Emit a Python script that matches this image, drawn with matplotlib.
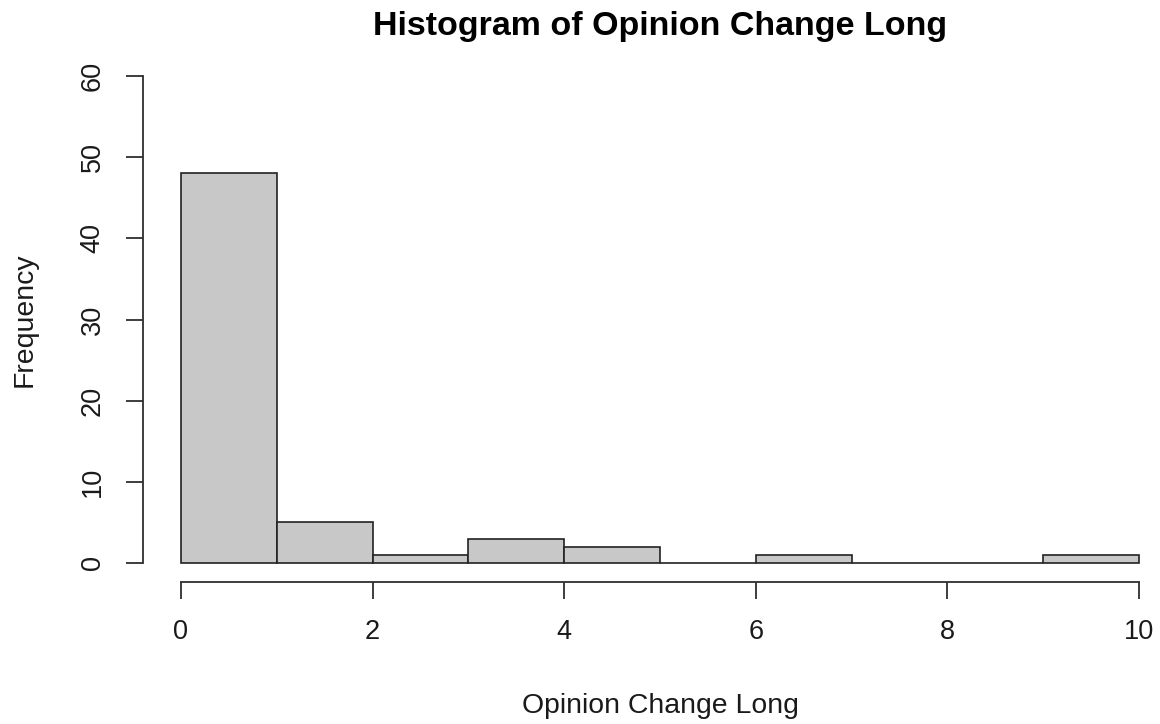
import numpy as np
import matplotlib
matplotlib.use("Agg")
import matplotlib.pyplot as plt

# histogram bins and counts
bin_edges = [0, 1, 2, 3, 4, 5, 6, 7, 8, 9, 10]
counts = [48, 5, 1, 3, 2, 0, 1, 0, 0, 1]
x_ticks = [0, 2, 4, 6, 8, 10]
y_ticks = [0, 10, 20, 30, 40, 50, 60]

plt.rcParams['font.family'] = ['Liberation Sans', 'DejaVu Sans']

W, H = 1160, 724
fig = plt.figure(figsize=(W / 100, H / 100), dpi=100)

left, right, top, bottom = 181, 1139, 76, 563
ax = fig.add_axes([left / W, 1 - bottom / H, (right - left) / W, (bottom - top) / H])

ax.hist(bin_edges[:-1], bins=bin_edges, weights=counts,
        color='#c8c8c8', edgecolor='#222222', linewidth=1.2, clip_on=False)

ax.set_xlim(0, 10)
ax.set_ylim(0, 60)
ax.set_xticks(x_ticks)
ax.set_yticks(y_ticks)

# R style detached axes
for s in ['top', 'right']:
    ax.spines[s].set_visible(False)
ax.spines['bottom'].set_position(('outward', 13.7))
ax.spines['left'].set_position(('outward', 27.4))
ax.spines['bottom'].set_bounds(0, 10)
ax.spines['left'].set_bounds(0, 60)
for s in ['bottom', 'left']:
    ax.spines[s].set_linewidth(1.3)
    ax.spines[s].set_color('#2e2e2e')

ax.tick_params(axis='x', length=12.2, width=1.3, color='#2e2e2e',
               labelsize=19.5, pad=14.5, labelcolor='#1a1a1a')
ax.tick_params(axis='y', length=12.2, width=1.3, color='#2e2e2e',
               labelsize=19.5, pad=14.5, labelcolor='#1a1a1a')
for lab in ax.get_yticklabels():
    lab.set_rotation(90)
    lab.set_va('center')

fig.text(660 / W, 1 - 27 / H, 'Histogram of Opinion Change Long',
         ha='center', va='center', fontsize=24.5, fontweight='bold')
fig.text(660 / W, 1 - 706 / H, 'Opinion Change Long',
         ha='center', va='center', fontsize=20.4, color='#1a1a1a')
fig.text(25 / W, 1 - 320 / H, 'Frequency', rotation=90,
         ha='center', va='center', fontsize=20.4, color='#1a1a1a')

fig.savefig('out.png', dpi=100)
